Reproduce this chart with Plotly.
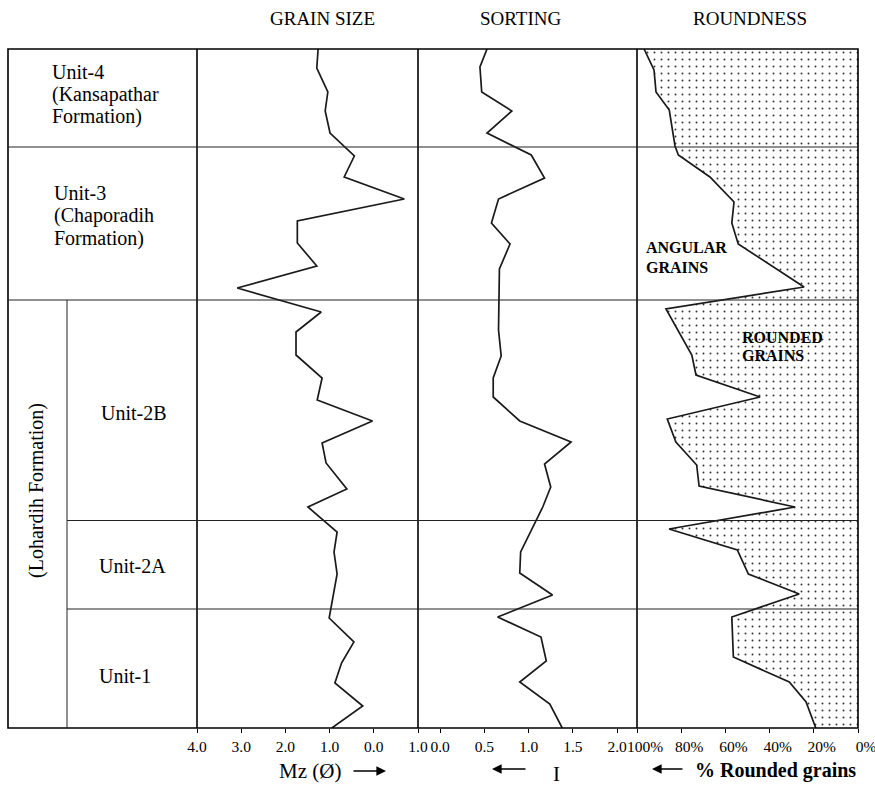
import plotly.graph_objects as go

# ---------------- data (depth below top of section, arbitrary units) ----------------
grain_depth = [0, 19, 43, 62, 84, 107, 128, 150, 172, 194, 217, 239, 263, 283, 306, 329,
               351, 372, 394, 414, 440, 458, 483, 503, 525, 569, 593, 614, 634, 657, 679]
grain_mz = [1.26, 1.29, 1.04, 1.10, 0.99, 0.44, 0.67, -0.69, 1.73, 1.73, 1.29, 3.09, 1.19, 1.76,
            1.76, 1.17, 1.28, 0.03, 1.17, 1.08, 0.61, 1.49, 0.83, 0.90, 0.83, 1.01, 0.45, 0.73,
            0.88, 0.25, 0.95]

sort_depth = [0, 18, 43, 62, 84, 106, 129, 150, 174, 195, 220, 281, 307, 329, 348, 372, 393,
              415, 438, 458, 503, 524, 546, 568, 588, 612, 633, 655, 679]
sort_i = [0.53, 0.45, 0.47, 0.81, 0.53, 1.03, 1.18, 0.66, 0.58, 0.79, 0.67, 0.66, 0.69, 0.60,
          0.60, 0.90, 1.48, 1.18, 1.25, 1.16, 0.91, 0.90, 1.27, 0.65, 1.14, 1.20, 0.90, 1.24, 1.38]

round_depth = [0, 21, 43, 61, 97, 106, 128, 153, 174, 195, 238, 260, 306, 326, 348, 370, 393,
               416, 437, 458, 480, 501, 525, 545, 568, 608, 633, 653, 679]
round_pct = [96.8, 92.3, 91.4, 85.4, 82.8, 81.3, 67.0, 56.1, 57.1, 54.2, 24.4, 86.9, 75.2, 73.3,
             44.3, 86.3, 82.4, 73.0, 71.9, 28.5, 85.5, 54.6, 49.6, 26.6, 57.1, 56.4, 31.1, 23.5, 19.1]

section_bottom = 679
unit_boundaries_full = [98, 251]        # span whole width
unit_boundaries_inner = [471.5, 560]    # start at inner divider

grain_ticks = [4, 3, 2, 1, 0, -1]
grain_ticktext = ["4.0", "3.0", "2.0", "1.0", "0.0", "1.0"]
sort_ticks = [0, 0.5, 1.0, 1.5, 2.0]
sort_ticktext = ["0.0", "0.5", "1.0", "1.5", "2.0"]
round_ticks = [100, 80, 60, 40, 20, 0]
round_ticktext = ["100%", "80%", "60%", "40%", "20%", "0%"]

# ---------------- layout helpers ----------------
W, H = 875, 787
L, R, T, B = 8, 858, 49, 728
def px(x):
    return (x - L) / (R - L)
def py(y):
    return (B - y) / (B - T)

SERIF = "Liberation Serif, Times New Roman, serif"
INK = "#1a1a1a"

fig = go.Figure()

# roundness fill (rounded grains, dotted)
fig.add_trace(go.Scatter(
    x=round_pct + [0, 0], y=round_depth + [section_bottom, 0],
    xaxis="x3", yaxis="y", mode="lines", fill="toself",
    line=dict(width=0, color="rgba(0,0,0,0)"),
    fillcolor="white",
    fillpattern=dict(shape=".", size=7, solidity=0.06, fgcolor="#333", bgcolor="white"),
    hoverinfo="skip", showlegend=False))

fig.add_trace(go.Scatter(x=grain_mz, y=grain_depth, xaxis="x", yaxis="y", mode="lines",
                         line=dict(color=INK, width=1.7), showlegend=False))
fig.add_trace(go.Scatter(x=sort_i, y=sort_depth, xaxis="x2", yaxis="y", mode="lines",
                         line=dict(color=INK, width=1.7), showlegend=False))
fig.add_trace(go.Scatter(x=round_pct, y=round_depth, xaxis="x3", yaxis="y", mode="lines",
                         line=dict(color=INK, width=1.7), showlegend=False))

axis_common = dict(showgrid=False, zeroline=False, showline=False, ticks="outside",
                   ticklen=4, tickwidth=1, tickcolor="black", anchor="y", automargin=False,
                   ticklabeloverflow="allow",
                   tickfont=dict(family=SERIF, size=15.5, color="black"), tickmode="array")

fig.update_layout(
    template="none",
    width=W, height=H, autosize=False,
    margin=dict(l=L, r=W - R, t=T, b=H - B, pad=0),
    paper_bgcolor="white", plot_bgcolor="white",
    showlegend=False,
    xaxis=dict(domain=[px(197), px(418)], range=[4.0, -1.0],
               tickvals=grain_ticks, ticktext=grain_ticktext, **axis_common),
    xaxis2=dict(domain=[px(418), px(637)], range=[-0.25, 2.225],
                tickvals=sort_ticks, ticktext=sort_ticktext, **axis_common),
    xaxis3=dict(domain=[px(637), 1.0], range=[100, 0],
                tickvals=round_ticks, ticktext=round_ticktext, ticklabelshift=-8, **axis_common),
    yaxis=dict(domain=[0, 1], range=[section_bottom, 0], visible=False, automargin=False,
               showgrid=False, zeroline=False),
)

shapes = []
frame = dict(color="black", width=1.6)
thin = dict(color="#222", width=1)
# outer frame
shapes.append(dict(type="rect", xref="paper", yref="paper", x0=0, x1=1, y0=0, y1=1,
                   line=frame, layer="above"))
# panel dividers
for xx in [197, 418, 637]:
    shapes.append(dict(type="line", xref="paper", yref="paper", x0=px(xx), x1=px(xx),
                       y0=0, y1=1, line=frame, layer="above"))
# inner divider for Lohardih Formation
shapes.append(dict(type="line", xref="paper", yref="y", x0=px(67), x1=px(67),
                   y0=unit_boundaries_full[-1], y1=section_bottom, line=thin, layer="above"))
for d in unit_boundaries_full:
    shapes.append(dict(type="line", xref="paper", yref="y", x0=0, x1=1, y0=d, y1=d,
                       line=thin, layer="above"))
for d in unit_boundaries_inner:
    shapes.append(dict(type="line", xref="paper", yref="y", x0=px(67), x1=1, y0=d, y1=d,
                       line=thin, layer="above"))
fig.update_layout(shapes=shapes)

ann = []
def text(x, y, s, size=20, bold=False, xanchor="center", yanchor="middle", angle=0):
    ann.append(dict(xref="paper", yref="paper", x=px(x), y=py(y),
                    text=f"<b>{s}</b>" if bold else s, showarrow=False,
                    xanchor=xanchor, yanchor=yanchor, textangle=angle,
                    font=dict(family=SERIF, size=size, color="black")))

# column titles
text(322, 19, "GRAIN SIZE", size=19)
text(520, 19, "SORTING", size=19)
text(750, 19, "ROUNDNESS", size=19)

# unit labels
for i, s in enumerate(["Unit-4", "(Kansapathar", "Formation)"]):
    text(50, 72 + 22.5 * i, s, xanchor="left")
for i, s in enumerate(["Unit-3", "(Chaporadih", "Formation)"]):
    text(52, 193 + 22.5 * i, s, xanchor="left")
text(99, 413, "Unit-2B", xanchor="left")
text(97, 566, "Unit-2A", xanchor="left")
text(97, 676, "Unit-1", xanchor="left")
text(36, 491, "(Lohardih Formation)", angle=-90)

# panel annotations
text(644, 248, "ANGULAR", size=16, bold=True, xanchor="left")
text(644, 267, "GRAINS", size=16, bold=True, xanchor="left")
text(740, 337, "ROUNDED", size=16, bold=True, xanchor="left")
text(740, 356, "GRAINS", size=16, bold=True, xanchor="left")

# axis titles
text(310, 771, "Mz (Ø)", size=21)
text(556, 774, "I", size=21)
text(693, 770, "% Rounded grains", size=20, bold=True, xanchor="left")

def arrow(x_head, x_tail, y):
    ann.append(dict(xref="paper", yref="paper", x=px(x_head), y=py(y),
                    ax=x_tail - x_head, ay=0, axref="pixel", ayref="pixel",
                    text="", showarrow=True, arrowhead=2, arrowsize=1.2,
                    arrowwidth=1.6, arrowcolor="black"))
arrow(386, 352, 771)
arrow(492, 527, 769)
arrow(652, 684, 769)

fig.update_layout(annotations=ann)

fig.write_html("out.html", config={"displayModeBar": False},
               post_script="document.body.style.margin='0';")
